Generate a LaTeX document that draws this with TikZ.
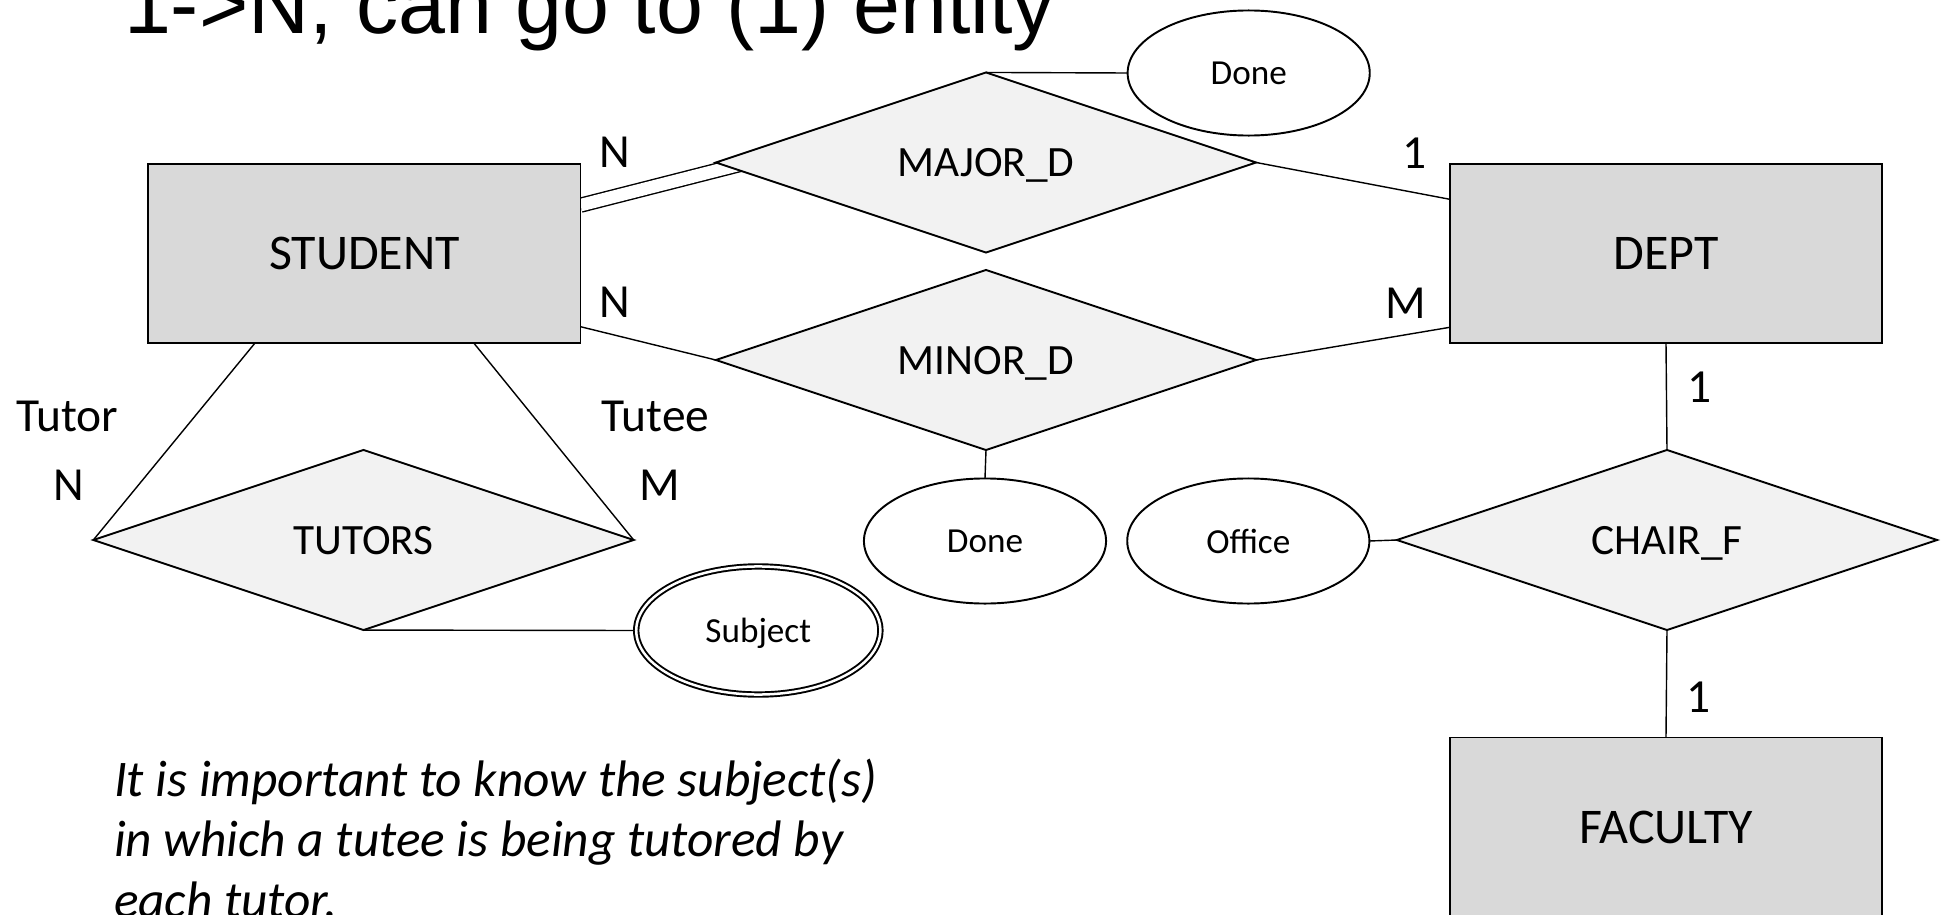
\documentclass[tikz,border=0pt]{standalone}
\usepackage{fontspec}
\setmainfont{Carlito}
\newfontfamily\titlefont{Liberation Sans}
\usetikzlibrary{calc,shapes.geometric}
\definecolor{entgray}{HTML}{D9D9D9}
\definecolor{relgray}{HTML}{F2F2F2}
\pgfdeclarelayer{bg}
\pgfsetlayers{bg,main}

\begin{document}
\begin{tikzpicture}[x=0.01cm,y=-0.01cm,line width=0.55pt,every node/.style={outer sep=0pt,inner sep=0pt}]
\tikzstyle{entity}=[draw,fill=entgray,minimum width=4.32cm,minimum height=1.78cm,text depth=0pt,font=\fontsize{14.2}{16}\selectfont]
\tikzstyle{relship}=[draw,fill=relgray,diamond,aspect=3,minimum width=5.4cm,minimum height=1.8cm,text depth=0pt,font=\fontsize{12.3}{14}\selectfont]
\tikzstyle{attrib}=[draw,fill=white,ellipse,minimum width=2.42cm,minimum height=1.25cm,text depth=0pt,font=\fontsize{10}{12}\selectfont]
\tikzstyle{multiattrib}=[attrib,double,double distance=0.025cm,minimum width=2.44cm,minimum height=1.28cm]
\tikzstyle{card}=[anchor=base,font=\fontsize{13.5}{16}\selectfont]
\tikzstyle{partic}=[double,double distance=0.125cm]

\clip (0,0) rectangle (1941,915);

% title, cut off at the top
\node (title) [anchor=base west,font=\titlefont\fontsize{24}{28}\selectfont] at (124,33) {1->N, can go to (1) entity};

% entities
\node (STUDENT) [entity] at (364.4,253.5) {STUDENT};
\node (DEPT) [entity] at (1666,253.5) {DEPT};
\node (FACULTY) [entity,anchor=north,minimum height=1.82cm] at (1666,737.5) {};
\node at ($(FACULTY.north)+(0,90)$) [font=\fontsize{14.2}{16}\selectfont,text depth=0pt] {FACULTY};

% relationships
\node (MAJOR_D) [relship] at (986,162.5) {MAJOR\_D};
\node (MINOR_D) [relship] at (986,360) {MINOR\_D};
\node (TUTORS) [relship] at (363.5,540) {TUTORS};
\node (CHAIR_F) [relship] at (1667,540) {CHAIR\_F};

% attributes
\node (Done1) [attrib] at (1248.7,73) {Done};
\node (Done2) [attrib] at (985,541) {Done};
\node (Office) [attrib] at (1248.3,541) {Office};
\node (Subject) [multiattrib] at (758.3,630.5) {Subject};

\begin{pgfonlayer}{bg}
\draw [partic] ($(STUDENT.east)+(0,-48.3)$) -- ($(MAJOR_D.west)+(30,0.5)$);
\draw (MAJOR_D.east) -- ($(DEPT.west)+(0,-54.2)$);
\draw ($(STUDENT.east)+(0,73.2)$) -- (MINOR_D.west);
\draw (MINOR_D.east) -- ($(DEPT.west)+(0,73.8)$);
\draw (MAJOR_D.north) -- (Done1.west);
\draw (MINOR_D.south) -- (Done2.north);
\draw (Office.east) -- (CHAIR_F.west);
\draw (DEPT.south) -- (CHAIR_F.north);
\draw (CHAIR_F.south) -- (FACULTY.north);
\draw ($(STUDENT.south)+(-109,0)$) -- (TUTORS.west);
\draw ($(STUDENT.south)+(109,0)$) -- (TUTORS.east);
\draw (TUTORS.south) -- (Subject.west);
\end{pgfonlayer}

% cardinalities and roles
\node (nMajor) [card] at (615,167.3) {N};
\node (oneMajor) [card] at (1415,168.3) {1};
\node (nMinor) [card] at (615,317.3) {N};
\node (mMinor) [card] at (1406,318.3) {M};
\node (tutor) [card] at (67.4,431.7) {Tutor};
\node (tutee) [card] at (655.6,431.7) {Tutee};
\node (nTutor) [card] at (69,500) {N};
\node (mTutee) [card] at (659.3,500) {M};
\node (oneDept) [card] at (1700,402) {1};
\node (oneFaculty) [card] at (1699,712.3) {1};

% note, last line cut at the bottom
\node (note) [anchor=base west,align=left,font=\itshape\fontsize{14.6}{17.07}\selectfont] at (114,917) {It is important to know the subject(s)\\in which a tutee is being tutored by\\each tutor.};
\end{tikzpicture}
\end{document}
